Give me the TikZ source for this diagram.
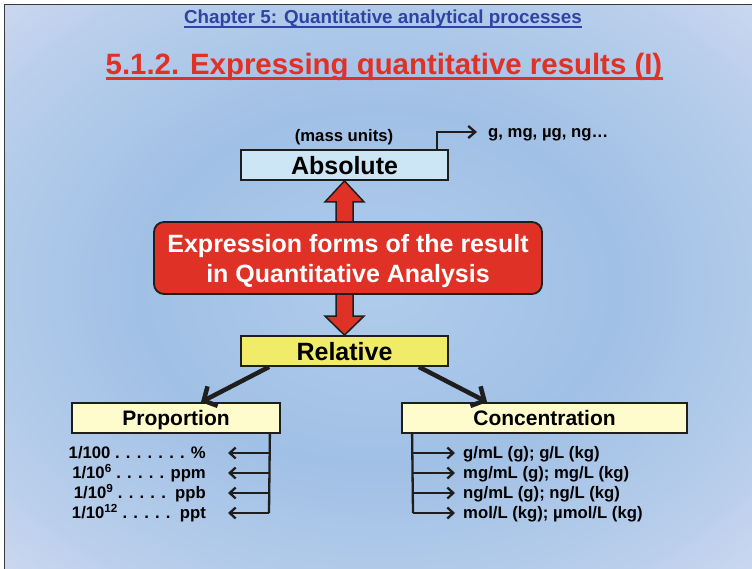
\documentclass[tikz,border=0pt]{standalone}
\usepackage{fontspec}
\setmainfont{Liberation Sans}
\usetikzlibrary{positioning, arrows.meta, calc}

\definecolor{chapblue}{RGB}{48,66,164}
\definecolor{titlered}{RGB}{224,49,38}
\definecolor{absfill}{RGB}{205,230,245}
\definecolor{relfill}{RGB}{240,235,105}
\definecolor{subfill}{RGB}{254,251,205}
\definecolor{edge}{RGB}{30,30,30}
\definecolor{bgcentre}{RGB}{176,204,236}
\definecolor{bgblue}{RGB}{160,192,229}
\definecolor{bgpale}{RGB}{186,207,236}
\definecolor{bgmist}{RGB}{222,223,243}
\definecolor{bgpink}{RGB}{246,230,248}

\pgfdeclareradialshading{slidebg}{\pgfpoint{0bp}{0bp}}{color(0bp)=(bgcentre); color(16bp)=(bgblue); color(30bp)=(bgpale); color(41bp)=(bgmist); color(51bp)=(bgpink); color(72bp)=(bgpink)}

\begin{document}
\begin{tikzpicture}[x=1pt, y=-1pt,
    every node/.style={font=\bfseries},
    box/.style={draw=edge, line width=1.8pt, inner sep=0pt, minimum width=207pt, minimum height=30pt,
        text depth=0pt, font=\bfseries\fontsize{25}{30}\selectfont},
    subbox/.style={box, fill=subfill, font=\bfseries\fontsize{21}{25}\selectfont},
    item/.style={inner sep=0pt, text height=11.5pt, text depth=0.5pt, font=\bfseries\fontsize{16.7}{20}\selectfont},
    listarrow/.style={draw=edge, line width=2.3pt, -{Straight Barb[length=6pt, width=11pt]}}]

    % Slide background and frame
    \useasboundingbox (0,0) rectangle (752,569);
    \shade[shading=slidebg] (4.5,4.5) rectangle (752,569);
    \draw[line width=1.6pt, gray!45!black] (4.5,569) -- (4.5,4.5) -- (752,4.5);

    % Titles
    \node[inner sep=0pt, anchor=base, text=chapblue, font=\bfseries\fontsize{18.8}{22}\selectfont] (chap) at (383,24)
        {Chapter 5: Quantitative analytical processes};
    \draw[chapblue, line width=2pt] ([yshift=-3pt]chap.base west) -- ([yshift=-3pt]chap.base east);
    \node[inner sep=0pt, anchor=base, text=titlered, font=\bfseries\fontsize{29.4}{34}\selectfont] (title) at (384,75)
        {5.1.2. Expressing quantitative results (I)};
    \draw[titlered, line width=3pt] ([yshift=-4pt]title.base west) -- ([yshift=-4pt]title.base east);

    % Absolute / Relative
    \node[box, fill=absfill] (abs) at (344.5,165) {Absolute};
    \node[box, fill=relfill] (rel) at (344.5,351) {Relative};
    \node[item, anchor=base] (masslabel) at (344,142) {(mass units)};
    \node[item, anchor=base west] (massunits) at (488,138) {g, mg, µg, ng…};
    \coordinate (unitsend) at (477,132);
    \draw[edge, line width=2.3pt, -{Straight Barb[length=7pt, width=12pt]}] ($(abs.north east)+(-12,0)$) |- (unitsend);

    % Double arrow behind the central box
    \draw[edge, line width=1.5pt, fill=titlered] (abs.south) -- ++(19.5,21) -- ++(-11,0)
        -- ($(rel.north)+(8.5,-19)$) -- ++(11,0) -- (rel.north) -- ++(-19.5,-19) -- ++(11,0)
        -- ($(abs.south)+(-8.5,21)$) -- ++(-11,0) -- cycle;

    \node[draw=edge, line width=1.8pt, fill=titlered, text=white, rounded corners=10pt, inner sep=0pt,
        minimum width=388pt, minimum height=72pt, align=center, font=\bfseries\fontsize{25}{30}\selectfont]
        (expr) at (348,258) {Expression forms of the result\\\raisebox{0pt}[\height][0pt]{in Quantitative Analysis}};

    % Proportion / Concentration
    \node[subbox, minimum width=208pt] (prop) at (176,418) {Proportion};
    \node[subbox, minimum width=285pt] (conc) at (544.5,418) {Concentration};
    \draw[edge, line width=4.5pt, -{Straight Barb[length=10pt, width=22pt]}] ($(rel.south west)+(29,0)$) -- ($(prop.north)+(25,0)$);
    \draw[edge, line width=4.5pt, -{Straight Barb[length=10pt, width=22pt]}] ($(rel.south east)+(-30,0)$) -- ($(conc.north west)+(86,0)$);

    % Proportion list
    \foreach \y/\t [count=\i] in {453/{1/100 . . . . . . . \%}, 473/{1/10\textsuperscript{6} . . . . . ppm},
        493/{1/10\textsuperscript{9} . . . . .\ \ ppb}, 513/{1/10\textsuperscript{12} . . . . .\ \ ppt}} {
        \node[item, anchor=base east] (prop\i) at (206,\y+5.5) {\t};
        \coordinate (pbus\i) at (269,\y);
        \draw[listarrow, shorten >=22pt] (pbus\i) -- (prop\i.east);
    }
    \draw[edge, line width=2.3pt] ($(prop.south east)+(-11,0)$) -- (pbus4);

    % Concentration list
    \foreach \y/\t [count=\i] in {453/{g/mL (g); g/L (kg)}, 473/{mg/mL (g); mg/L (kg)},
        493/{ng/mL (g); ng/L (kg)}, 513/{mol/L (kg); µmol/L (kg)}} {
        \node[item, anchor=base west] (conc\i) at (463,\y+5.5) {\t};
        \coordinate (cbus\i) at (413,\y);
        \draw[listarrow, shorten >=8pt] (cbus\i) -- (conc\i.west);
    }
    \draw[edge, line width=2.3pt] ($(conc.south west)+(11,0)$) -- (cbus4);
\end{tikzpicture}
\end{document}
